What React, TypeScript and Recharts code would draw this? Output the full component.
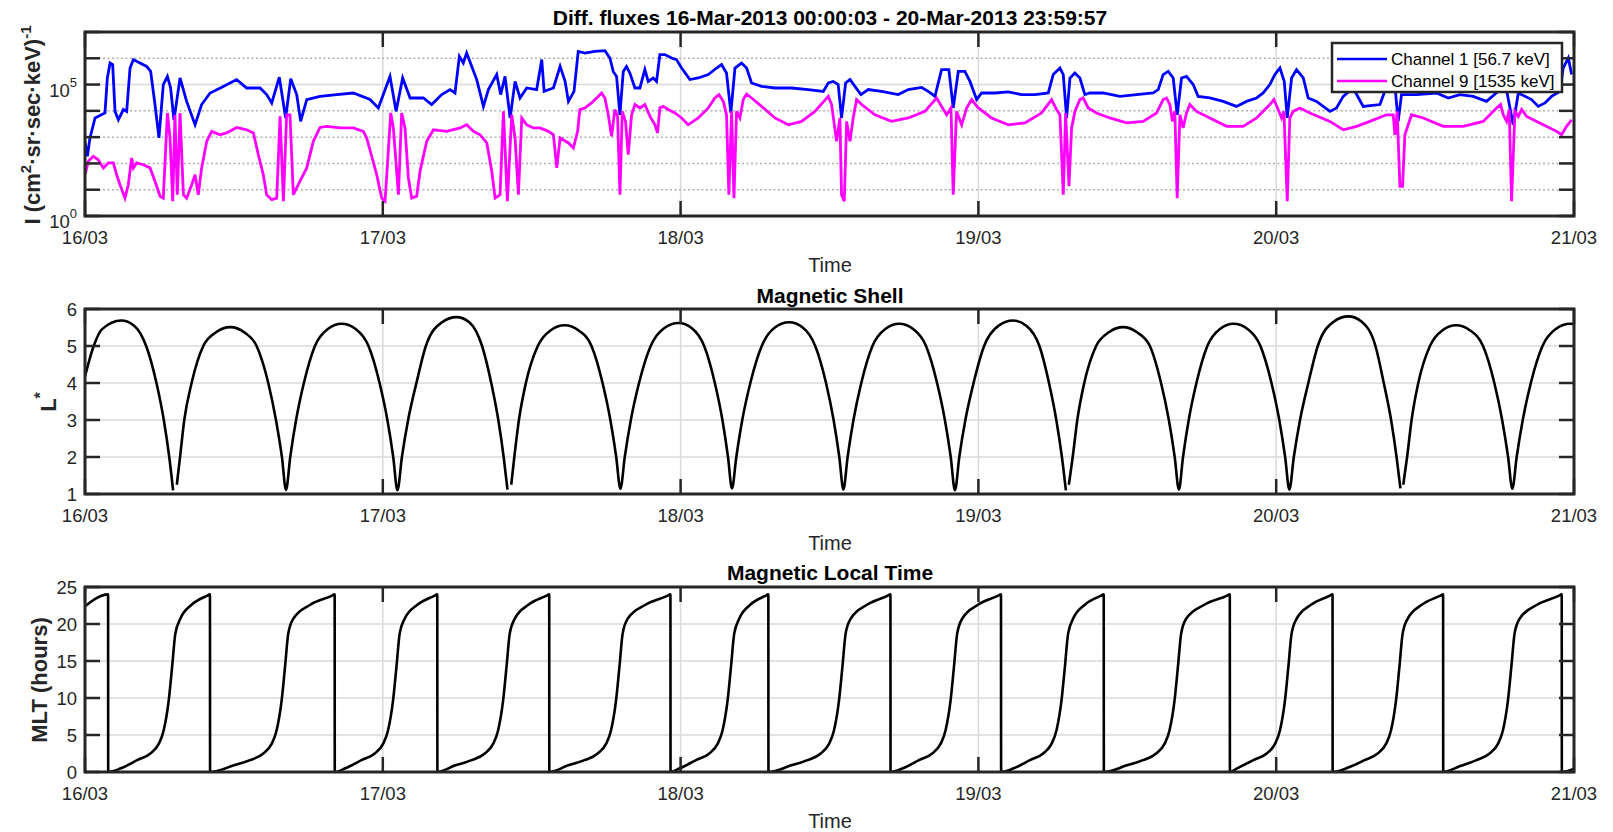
import React from 'react';
import { LineChart, Line, XAxis, YAxis, CartesianGrid } from 'recharts';

const FONT = '"Liberation Sans", Arial, Helvetica, sans-serif';
const INK = '#262626';
const GRID = '#dadada';
const MINOR = '#b0b0b0';
const PLOT_W = 1489;
const TICK_LEN = 15;

// ---- axis / label data ----
const dayTicks = [0, 24, 48, 72, 96, 120];
const dayLabels = ['16/03', '17/03', '18/03', '19/03', '20/03', '21/03'];
const fluxTicks = [1, 10, 100, 1000, 10000, 100000, 1000000, 10000000];
const fluxTickExponents = ['0', '', '', '', '', '5', '', ''];
const fluxMajorGrid = [100000];
const fluxMinorGrid = [10, 100, 1000, 10000, 1000000];
const lTicks = [1, 2, 3, 4, 5, 6];
const mltTicks = [0, 5, 10, 15, 20, 25];
const seriesNames = ['Channel 1 [56.7 keV]', 'Channel 9 [1535 keV]'];
const seriesColors = ['#0000ff', '#ff00ff'];
const panelTitles = ['Diff. fluxes 16-Mar-2013 00:00:03 - 20-Mar-2013 23:59:57', 'Magnetic Shell', 'Magnetic Local Time'];

// ---- Channel 1: [hours since 16/03 00:00, log10 flux] ----
const ch1 = [
  [0, 2.84], [0.19, 2.27], [0.4, 2.97], [0.81, 3.73], [1.61, 3.92], [1.8, 5.25], [2.02, 5.82], [2.23, 5.76], [2.42, 3.98], [2.69, 3.66],
  [3.09, 4.05], [3.36, 3.98], [3.63, 5.63], [3.9, 5.95], [4.43, 5.82], [4.97, 5.69], [5.29, 5.5], [5.64, 4.24], [5.96, 2.97], [6.31, 5.0],
  [6.64, 5.31], [6.9, 4.87], [7.17, 3.66], [7.66, 5.25], [8.19, 4.36], [8.87, 3.47], [9.4, 4.24], [10.08, 4.68], [11.15, 4.93], [12.22, 5.19],
  [13.03, 4.87], [14.11, 4.87], [14.64, 4.62], [15.05, 4.3], [15.66, 5.28], [16.17, 3.73], [16.58, 5.22], [17.06, 4.62], [17.38, 3.6], [17.87, 4.43],
  [18.94, 4.55], [20.28, 4.62], [21.63, 4.68], [22.97, 4.43], [23.64, 4.11], [24.58, 5.31], [25.07, 3.98], [25.6, 5.25], [26.2, 4.49], [27.27, 4.49],
  [27.94, 4.24], [28.75, 4.62], [29.42, 4.81], [29.82, 4.68], [30.17, 6.07], [30.49, 5.82], [30.76, 6.2], [31.17, 5.69], [31.57, 5.19], [32.11, 4.17],
  [32.51, 4.81], [33.18, 5.38], [33.5, 4.62], [33.85, 5.31], [34.26, 3.73], [34.66, 5.12], [35.06, 4.49], [35.6, 4.87], [36.4, 4.81], [36.81, 5.95],
  [37.0, 4.74], [37.75, 4.87], [38.29, 5.69], [38.69, 5.12], [38.96, 4.36], [39.41, 4.74], [39.75, 6.26], [40.29, 6.2], [41.09, 6.26], [41.9, 6.29],
  [42.3, 6.01], [42.57, 5.5], [42.84, 5.31], [43.11, 3.85], [43.38, 5.5], [43.64, 5.69], [43.91, 5.44], [44.32, 4.87], [44.72, 4.87], [45.12, 5.57],
  [45.39, 5.12], [45.79, 5.25], [46.06, 5.12], [46.33, 6.14], [46.73, 6.14], [47.27, 6.01], [47.67, 5.95], [48.08, 5.63], [48.75, 5.19], [49.42, 5.25],
  [50.23, 5.38], [50.9, 5.63], [51.3, 5.76], [51.7, 5.44], [51.89, 4.62], [52.05, 3.92], [52.38, 5.63], [52.91, 5.82], [53.32, 5.63], [53.72, 5.06],
  [54.53, 4.93], [55.6, 4.87], [56.94, 4.87], [58.29, 4.81], [59.5, 4.74], [59.9, 5.06], [60.3, 5.12], [60.7, 5.0], [60.97, 3.73], [61.3, 5.06],
  [61.65, 5.19], [62.05, 4.93], [62.53, 4.62], [63.12, 4.81], [64.2, 4.74], [65.54, 4.62], [66.35, 4.81], [67.42, 4.89], [67.96, 4.74], [68.5, 4.55],
  [69.03, 5.57], [69.62, 5.57], [69.97, 4.11], [70.38, 5.5], [70.91, 5.5], [71.32, 5.12], [71.86, 4.43], [72.26, 4.68], [73.33, 4.68], [74.41, 4.72],
  [75.48, 4.62], [76.56, 4.62], [77.63, 4.68], [78.03, 5.38], [78.57, 5.63], [78.84, 5.38], [79.11, 3.73], [79.38, 5.25], [79.77, 5.44], [80.18, 5.25],
  [80.58, 4.62], [80.98, 4.68], [82.06, 4.68], [83.4, 4.55], [84.74, 4.62], [86.09, 4.68], [86.49, 4.81], [86.89, 5.38], [87.3, 5.5], [87.7, 5.25],
  [88.02, 3.85], [88.37, 5.25], [88.77, 5.31], [89.31, 5.0], [89.71, 4.55], [90.65, 4.49], [91.73, 4.36], [92.8, 4.17], [93.61, 4.36], [94.42, 4.49],
  [94.95, 4.68], [95.49, 5.0], [95.89, 5.38], [96.3, 5.63], [96.65, 5.12], [96.89, 3.73], [97.24, 5.25], [97.64, 5.57], [98.18, 5.25], [98.58, 4.49],
  [99.25, 4.36], [100.33, 3.98], [100.86, 4.11], [101.4, 4.55], [102.2, 4.87], [103.01, 4.17], [104.36, 4.24], [104.89, 4.93], [105.56, 5.0], [105.83, 3.6],
  [106.1, 4.62], [107.31, 4.62], [108.92, 4.68], [109.86, 4.49], [110.8, 4.62], [111.88, 4.55], [112.95, 4.36], [113.89, 4.74], [114.43, 5.12], [115.1, 3.47],
  [115.51, 4.68], [116.58, 4.43], [117.12, 4.17], [117.66, 4.3], [118.19, 4.55], [118.87, 4.74], [119.13, 5.63], [119.54, 6.01], [119.81, 5.38],
];

// ---- Channel 9: [hours, log10 flux] ----
const ch9 = [
  [0, 1.57], [0.27, 2.08], [0.67, 2.27], [1.07, 2.14], [1.48, 1.83], [1.88, 2.02], [2.28, 2.02], [2.55, 1.57], [2.82, 1.19], [3.22, 0.68],
  [3.49, 1.19], [3.76, 2.21], [3.9, 1.83], [4.16, 2.02], [4.7, 1.95], [5.24, 1.83], [5.64, 1.32], [6.05, 0.75], [6.31, 0.68], [6.64, 3.92],
  [6.85, 2.97], [7.07, 0.56], [7.25, 3.85], [7.44, 0.81], [7.66, 3.92], [7.93, 0.81], [8.19, 0.68], [8.6, 1.19], [8.87, 1.57], [9.13, 0.81],
  [9.4, 1.83], [9.81, 2.84], [10.21, 3.22], [10.88, 3.09], [11.42, 3.16], [12.22, 3.37], [13.03, 3.28], [13.57, 3.16], [13.97, 2.33], [14.37, 1.57],
  [14.64, 0.81], [15.05, 0.62], [15.45, 0.68], [15.72, 3.79], [15.99, 0.56], [16.25, 3.85], [16.52, 3.85], [16.79, 0.81], [17.06, 1.07], [17.46, 1.45],
  [17.87, 1.83], [18.4, 2.84], [18.94, 3.37], [19.48, 3.41], [20.55, 3.35], [21.63, 3.35], [22.43, 3.22], [22.7, 2.97], [23.11, 2.27], [23.51, 1.57],
  [23.91, 0.68], [24.18, 0.56], [24.64, 3.92], [24.85, 3.35], [25.26, 0.81], [25.52, 3.92], [25.79, 3.35], [26.06, 1.45], [26.33, 0.68], [26.73, 0.75],
  [27.0, 1.7], [27.54, 2.84], [28.08, 3.28], [29.15, 3.22], [30.23, 3.35], [30.76, 3.47], [31.3, 3.22], [31.84, 3.09], [32.38, 2.78], [32.78, 1.7],
  [33.05, 0.68], [33.45, 0.81], [33.72, 3.98], [34.04, 0.56], [34.39, 3.85], [34.66, 2.97], [34.93, 0.81], [35.2, 3.73], [35.6, 3.47], [36.14, 3.35],
  [36.67, 3.35], [37.35, 3.22], [37.75, 3.09], [38.02, 1.83], [38.29, 2.97], [38.96, 2.78], [39.36, 2.59], [39.7, 3.22], [39.88, 4.05], [40.29, 4.11],
  [40.82, 4.3], [41.36, 4.55], [41.63, 4.68], [41.9, 4.49], [42.17, 3.85], [42.44, 3.03], [42.7, 4.05], [42.92, 3.79], [43.11, 0.81], [43.3, 3.98],
  [43.56, 3.6], [43.78, 2.33], [44.05, 3.85], [44.32, 4.24], [44.72, 4.11], [45.12, 4.24], [45.53, 3.79], [45.93, 3.47], [46.14, 3.16], [46.33, 4.11],
  [46.6, 4.17], [47.0, 4.05], [47.54, 3.92], [48.08, 3.73], [48.61, 3.47], [49.42, 3.73], [50.23, 4.11], [50.76, 4.49], [51.09, 4.62], [51.44, 4.36],
  [51.7, 3.85], [51.89, 0.81], [52.11, 3.98], [52.3, 0.68], [52.51, 3.98], [52.78, 3.73], [53.05, 4.43], [53.32, 4.64], [53.72, 4.49], [54.53, 4.17],
  [55.6, 3.73], [56.68, 3.47], [57.75, 3.6], [58.82, 3.98], [59.9, 4.55], [60.17, 4.24], [60.57, 2.84], [60.84, 3.73], [60.97, 0.81], [61.19, 0.56],
  [61.38, 3.6], [61.65, 2.84], [61.91, 3.73], [62.18, 4.43], [62.59, 4.24], [63.66, 3.85], [65.0, 3.6], [66.35, 3.73], [67.69, 3.98], [68.63, 4.49],
  [69.03, 4.17], [69.44, 3.85], [69.79, 4.11], [69.97, 0.81], [70.24, 3.98], [70.65, 3.47], [71.05, 4.11], [71.45, 4.43], [71.99, 4.11], [73.06, 3.73],
  [74.41, 3.47], [75.75, 3.54], [77.09, 3.92], [77.9, 4.43], [78.3, 4.05], [78.57, 3.85], [78.84, 0.81], [79.03, 3.92], [79.3, 1.13], [79.51, 3.35],
  [79.78, 3.98], [80.18, 4.43], [80.44, 4.49], [80.85, 4.11], [81.52, 3.92], [82.59, 3.73], [83.94, 3.54], [85.28, 3.6], [86.36, 3.92], [86.89, 4.43],
  [87.16, 4.49], [87.43, 4.24], [87.64, 3.6], [87.83, 3.98], [88.02, 0.68], [88.24, 3.85], [88.5, 3.35], [88.77, 3.92], [89.04, 4.24], [89.58, 3.98],
  [90.65, 3.73], [92.0, 3.41], [93.34, 3.41], [94.42, 3.73], [95.49, 4.24], [95.81, 4.43], [96.16, 4.05], [96.43, 3.73], [96.62, 3.98], [96.89, 0.56],
  [97.1, 3.73], [97.37, 3.98], [97.91, 4.11], [98.71, 3.92], [100.33, 3.6], [101.4, 3.28], [102.48, 3.41], [103.55, 3.6], [104.89, 3.85], [105.43, 3.85],
  [105.57, 3.09], [105.75, 3.98], [105.97, 1.13], [106.18, 1.13], [106.37, 3.09], [106.64, 3.47], [106.91, 3.85], [107.85, 3.73], [109.46, 3.41], [111.07, 3.41],
  [112.68, 3.6], [113.76, 4.11], [114.08, 4.24], [114.3, 3.85], [114.57, 3.6], [114.78, 4.05], [114.97, 0.56], [115.24, 3.98], [115.51, 3.79], [115.78, 4.05],
  [116.18, 3.79], [117.52, 3.47], [118.6, 3.22], [119.0, 3.09], [119.4, 3.41], [119.81, 3.66],
];

// ---- L* : [hours, L*] (null = data gap) ----
const lStar: [number, number | null][] = [
  [0, 4.18], [0.7, 5.0], [1.36, 5.45], [2.92, 5.69], [3.96, 5.55], [4.93, 5.0], [5.76, 4.0], [6.35, 3.0], [6.79, 2.0], [7.1, 1.1],
  [7.25, null], [7.4, 1.25], [7.66, 2.0], [8.0, 3.0], [8.59, 4.0], [9.53, 5.0], [10.56, 5.37], [11.71, 5.51], [12.83, 5.37], [13.83, 5.0],
  [14.77, 4.0], [15.39, 3.0], [15.87, 2.0], [16.2, 1.11], [16.54, 2.0], [17.01, 3.0], [17.64, 4.0], [18.53, 5.0], [19.57, 5.46], [20.69, 5.6],
  [21.81, 5.46], [22.85, 5.0], [23.74, 4.0], [24.37, 3.0], [24.84, 2.0], [25.18, 1.1], [25.54, 2.0], [26.04, 3.0], [26.71, 4.0], [27.47, 5.0],
  [28.76, 5.64], [29.95, 5.78], [30.97, 5.64], [32.0, 5.0], [32.74, 4.0], [33.31, 3.0], [33.74, 2.0], [34.05, 1.12], [34.2, null], [34.35, 1.25],
  [34.6, 2.0], [34.97, 3.0], [35.53, 4.0], [36.49, 5.0], [37.51, 5.42], [38.66, 5.56], [39.78, 5.42], [40.82, 5.0], [41.71, 4.0], [42.34, 3.0],
  [42.81, 2.0], [43.15, 1.14], [43.5, 2.0], [43.99, 3.0], [44.65, 4.0], [45.59, 5.0], [46.67, 5.48], [47.84, 5.62], [48.91, 5.48], [49.9, 5.0],
  [50.76, 4.0], [51.37, 3.0], [51.82, 2.0], [52.14, 1.15], [52.49, 2.0], [52.97, 3.0], [53.62, 4.0], [54.54, 5.0], [55.6, 5.5], [56.75, 5.64],
  [57.84, 5.5], [58.85, 5.0], [59.72, 4.0], [60.33, 3.0], [60.79, 2.0], [61.12, 1.12], [61.46, 2.0], [61.93, 3.0], [62.56, 4.0], [63.46, 5.0],
  [64.5, 5.46], [65.62, 5.6], [66.74, 5.46], [67.78, 5.0], [68.67, 4.0], [69.3, 3.0], [69.77, 2.0], [70.11, 1.1], [70.46, 2.0], [70.95, 3.0],
  [71.61, 4.0], [72.46, 5.0], [73.63, 5.55], [74.8, 5.69], [75.86, 5.55], [76.92, 5.0], [77.69, 4.0], [78.28, 3.0], [78.73, 2.0], [79.05, 1.1],
  [79.17, null], [79.29, 1.25], [79.6, 2.0], [79.97, 3.0], [80.53, 4.0], [81.49, 5.0], [82.51, 5.37], [83.66, 5.51], [84.78, 5.37], [85.82, 5.0],
  [86.72, 4.0], [87.35, 3.0], [87.82, 2.0], [88.16, 1.12], [88.49, 2.0], [88.95, 3.0], [89.57, 4.0], [90.45, 5.0], [91.47, 5.46], [92.57, 5.6],
  [93.69, 5.46], [94.73, 5.0], [95.62, 4.0], [96.25, 3.0], [96.72, 2.0], [97.06, 1.12], [97.42, 2.0], [97.92, 3.0], [98.59, 4.0], [99.35, 5.0],
  [100.64, 5.66], [101.83, 5.8], [102.87, 5.66], [104.0, 5.0], [104.67, 4.0], [105.26, 3.0], [105.7, 2.0], [106.01, 1.15], [106.12, null], [106.24, 1.25],
  [106.55, 2.0], [106.91, 3.0], [107.45, 4.0], [108.39, 5.0], [109.38, 5.42], [110.5, 5.56], [111.63, 5.42], [112.67, 5.0], [113.58, 4.0], [114.21, 3.0],
  [114.69, 2.0], [115.03, 1.14], [115.38, 2.0], [115.87, 3.0], [116.52, 4.0], [117.46, 5.0], [118.53, 5.46], [119.7, 5.6], [120, 5.59],
];

// ---- MLT : [hours, MLT hours] ----
const mlt = [
  [0, 22.4], [1.86, 24.0], [1.87, 0],
  [2.9, 0.5], [4.2, 1.6], [5.27, 2.5], [5.94, 3.8], [6.34, 5.6], [6.75, 9.7], [7.02, 14.2], [7.28, 18.7], [7.68, 20.7], [8.59, 22.6], [9.82, 23.8], [10.07, 24.0], [10.08, 0],
  [12.0, 0.9], [13.3, 1.6], [14.37, 2.5], [15.04, 3.8], [15.44, 5.6], [15.85, 9.7], [16.12, 14.2], [16.38, 18.7], [16.78, 20.7], [18.16, 22.6], [19.87, 23.8], [20.12, 24.0], [20.13, 0],
  [20.98, 0.5], [22.28, 1.6], [23.35, 2.5], [24.02, 3.8], [24.42, 5.6], [24.83, 9.7], [25.1, 14.2], [25.36, 18.7], [25.76, 20.7], [26.79, 22.6], [28.14, 23.8], [28.39, 24.0], [28.4, 0],
  [29.85, 0.9], [31.15, 1.6], [32.22, 2.5], [32.89, 3.8], [33.29, 5.6], [33.7, 9.7], [33.97, 14.2], [34.23, 18.7], [34.63, 20.7], [35.73, 22.6], [37.16, 23.8], [37.41, 24.0], [37.42, 0],
  [38.95, 0.9], [40.25, 1.6], [41.32, 2.5], [41.99, 3.8], [42.39, 5.6], [42.8, 9.7], [43.07, 14.2], [43.33, 18.7], [43.73, 20.7], [45.17, 22.6], [46.93, 23.8], [47.18, 24.0], [47.19, 0],
  [47.94, 0.5], [49.24, 1.6], [50.31, 2.5], [50.98, 3.8], [51.38, 5.6], [51.79, 9.7], [52.06, 14.2], [52.32, 18.7], [52.72, 20.7], [53.61, 22.6], [54.82, 23.8], [55.07, 24.0], [55.08, 0],
  [56.92, 0.9], [58.22, 1.6], [59.29, 2.5], [59.96, 3.8], [60.36, 5.6], [60.77, 9.7], [61.04, 14.2], [61.3, 18.7], [61.7, 20.7], [63.02, 22.6], [64.66, 23.8], [64.91, 24.0], [64.92, 0],
  [65.91, 0.5], [67.21, 1.6], [68.28, 2.5], [68.95, 3.8], [69.35, 5.6], [69.76, 9.7], [70.03, 14.2], [70.29, 18.7], [70.69, 20.7], [71.97, 22.6], [73.57, 23.8], [73.82, 24.0], [73.83, 0],
  [74.85, 0.5], [76.15, 1.6], [77.22, 2.5], [77.89, 3.8], [78.29, 5.6], [78.7, 9.7], [78.97, 14.2], [79.23, 18.7], [79.63, 20.7], [80.58, 22.6], [81.85, 23.8], [82.1, 24.0], [82.11, 0],
  [83.96, 0.9], [85.26, 1.6], [86.33, 2.5], [87.0, 3.8], [87.4, 5.6], [87.81, 9.7], [88.08, 14.2], [88.34, 18.7], [88.74, 20.7], [90.21, 22.6], [92.01, 23.8], [92.26, 24.0], [92.27, 0],
  [92.86, 0.5], [94.16, 1.6], [95.23, 2.5], [95.9, 3.8], [96.3, 5.6], [96.71, 9.7], [96.98, 14.2], [97.24, 18.7], [97.64, 20.7], [98.8, 22.6], [100.29, 23.8], [100.54, 24.0], [100.55, 0],
  [101.81, 0.6], [103.11, 1.6], [104.18, 2.5], [104.85, 3.8], [105.25, 5.6], [105.66, 9.7], [105.93, 14.2], [106.19, 18.7], [106.59, 20.7], [107.73, 22.6], [109.2, 23.8], [109.45, 24.0], [109.46, 0],
  [110.83, 0.8], [112.13, 1.6], [113.2, 2.5], [113.87, 3.8], [114.27, 5.6], [114.68, 9.7], [114.95, 14.2], [115.21, 18.7], [115.61, 20.7], [117.02, 22.6], [118.76, 23.8], [119.01, 24.0], [119.02, 0],
  [120, 0.45],
];

// ---- tables for the library ----
const ch1Data = ch1.map(([t, lg]) => ({ t, v: Math.pow(10, lg) }));
const ch9Data = ch9.map(([t, lg]) => ({ t, v: Math.pow(10, lg) }));
const lData = lStar.map(([t, v]) => ({ t, v }));
const mltData = mlt.map(([t, v]) => ({ t, v }));

// ---- tick renderers ----
function XTick(props: any) {
  const { x, y, payload, plotH } = props;
  const idx = dayTicks.indexOf(payload.value);
  return (
    <g>
      <line x1={x} x2={x} y1={y} y2={y - TICK_LEN} stroke={INK} strokeWidth={2.5} />
      <line x1={x} x2={x} y1={y - plotH} y2={y - plotH + TICK_LEN} stroke={INK} strokeWidth={2.5} />
      <text x={x} y={y + 28} textAnchor="middle" fontFamily={FONT} fontSize={18.5} fill={INK}>
        {dayLabels[idx]}
      </text>
    </g>
  );
}

function YTick(props: any) {
  const { x, y, payload } = props;
  return (
    <g>
      <line x1={x} x2={x + TICK_LEN} y1={y} y2={y} stroke={INK} strokeWidth={2.5} />
      <line x1={x + PLOT_W - TICK_LEN} x2={x + PLOT_W} y1={y} y2={y} stroke={INK} strokeWidth={2.5} />
      <text x={x - 8} y={y} dy="0.36em" textAnchor="end" fontFamily={FONT} fontSize={18.5} fill={INK}>
        {String(payload.value)}
      </text>
    </g>
  );
}

function FluxTick(props: any) {
  const { x, y, payload } = props;
  const idx = fluxTicks.indexOf(payload.value);
  const exp = idx >= 0 ? fluxTickExponents[idx] : '';
  return (
    <g>
      <line x1={x} x2={x + TICK_LEN} y1={y} y2={y} stroke={INK} strokeWidth={2.5} />
      <line x1={x + PLOT_W - TICK_LEN} x2={x + PLOT_W} y1={y} y2={y} stroke={INK} strokeWidth={2.5} />
      {exp !== '' && (
        <text x={x - 8} y={y + 12} textAnchor="end" fontFamily={FONT} fontSize={18.5} fill={INK}>
          10<tspan dy={-10} fontSize={13}>{exp}</tspan>
        </text>
      )}
    </g>
  );
}

const W = 1613;
const H = 260;

export default function App() {
  return (
    <div style={{ position: 'absolute', left: 0, top: 0, width: 1613, height: 832, background: '#fff', fontFamily: FONT }}>
      {/* Panel 1: differential fluxes */}
      <div style={{ position: 'absolute', left: 0, top: 0 }}>
        <LineChart width={W} height={H} margin={{ top: 32, right: 39, bottom: 14, left: 25 }}>
          <CartesianGrid horizontal={false} stroke={GRID} strokeWidth={1.5} />
          <CartesianGrid vertical={false} horizontalValues={fluxMajorGrid} stroke={GRID} strokeWidth={1.5} />
          <CartesianGrid vertical={false} horizontalValues={fluxMinorGrid} stroke={MINOR} strokeWidth={1.5} strokeDasharray="2 2.5" />
          <XAxis dataKey="t" type="number" domain={[0, 120]} ticks={dayTicks} interval={0} height={30}
            axisLine={false} tickLine={false} tickSize={0} tickMargin={0} tick={<XTick plotH={184} />} allowDataOverflow />
          <YAxis type="number" scale="log" domain={[1, 10000000]} ticks={fluxTicks} interval={0} width={60}
            axisLine={false} tickLine={false} tickSize={0} tickMargin={0} tick={<FluxTick />} allowDataOverflow />
          <Line data={ch1Data} dataKey="v" name={seriesNames[0]} type="linear" stroke={seriesColors[0]} strokeWidth={2.8}
            dot={false} activeDot={false} isAnimationActive={false} />
          <Line data={ch9Data} dataKey="v" name={seriesNames[1]} type="linear" stroke={seriesColors[1]} strokeWidth={2.8}
            dot={false} activeDot={false} isAnimationActive={false} />
        </LineChart>
      </div>

      {/* Panel 2: L* */}
      <div style={{ position: 'absolute', left: 0, top: 280 }}>
        <LineChart width={W} height={H} margin={{ top: 29, right: 39, bottom: 16, left: 25 }}>
          <CartesianGrid stroke={GRID} strokeWidth={1.5} />
          <XAxis dataKey="t" type="number" domain={[0, 120]} ticks={dayTicks} interval={0} height={30}
            axisLine={false} tickLine={false} tickSize={0} tickMargin={0} tick={<XTick plotH={185} />} allowDataOverflow />
          <YAxis type="number" domain={[1, 6]} ticks={lTicks} interval={0} width={60}
            axisLine={false} tickLine={false} tickSize={0} tickMargin={0} tick={<YTick />} allowDataOverflow />
          <Line data={lData} dataKey="v" type="monotone" stroke="#000" strokeWidth={2.6}
            dot={false} activeDot={false} isAnimationActive={false} connectNulls={false} />
        </LineChart>
      </div>

      {/* Panel 3: MLT */}
      <div style={{ position: 'absolute', left: 0, top: 560 }}>
        <LineChart width={W} height={H} margin={{ top: 27, right: 39, bottom: 18, left: 25 }}>
          <CartesianGrid stroke={GRID} strokeWidth={1.5} />
          <XAxis dataKey="t" type="number" domain={[0, 120]} ticks={dayTicks} interval={0} height={30}
            axisLine={false} tickLine={false} tickSize={0} tickMargin={0} tick={<XTick plotH={185} />} allowDataOverflow />
          <YAxis type="number" domain={[0, 25]} ticks={mltTicks} interval={0} width={60}
            axisLine={false} tickLine={false} tickSize={0} tickMargin={0} tick={<YTick />} allowDataOverflow />
          <Line data={mltData} dataKey="v" type="monotone" stroke="#000" strokeWidth={2.6}
            dot={false} activeDot={false} isAnimationActive={false} />
        </LineChart>
      </div>

      {/* frames, titles, axis labels, legend */}
      <svg width={1613} height={832} style={{ position: 'absolute', left: 0, top: 0, pointerEvents: 'none' }}>
        <g fill="none" stroke={INK} strokeWidth={3}>
          <rect x={85} y={32} width={PLOT_W} height={184} />
          <rect x={85} y={309} width={PLOT_W} height={185} />
          <rect x={85} y={587} width={PLOT_W} height={185} />
        </g>
        <g fontFamily={FONT} fontWeight="bold" fontSize={21} fill="#000" textAnchor="middle">
          <text x={830} y={25}>{panelTitles[0]}</text>
          <text x={830} y={303}>{panelTitles[1]}</text>
          <text x={830} y={580}>{panelTitles[2]}</text>
        </g>
        <g fontFamily={FONT} fontSize={20} fill={INK} textAnchor="middle">
          <text x={830} y={272}>Time</text>
          <text x={830} y={550}>Time</text>
          <text x={830} y={828}>Time</text>
        </g>
        <g fontFamily={FONT} fontWeight="bold" fontSize={22} fill={INK} textAnchor="middle">
          <text x={40} y={125} transform="rotate(-90 40 125)">
            I (cm<tspan dy={-9} fontSize={15}>2</tspan><tspan dy={9}>·sr·sec·keV)</tspan><tspan dy={-9} fontSize={15}>-1</tspan>
          </text>
          <text x={56} y={402} transform="rotate(-90 56 402)">
            L<tspan dy={-10} fontSize={16}>*</tspan>
          </text>
          <text x={47} y={680} transform="rotate(-90 47 680)">MLT (hours)</text>
        </g>
        <g>
          <rect x={1332} y={43} width={230} height={49} fill="#fff" stroke={INK} strokeWidth={2.5} />
          {seriesNames.map((name, i) => (
            <g key={name}>
              <line x1={1337} x2={1387} y1={59 + i * 22} y2={59 + i * 22} stroke={seriesColors[i]} strokeWidth={2.5} />
              <text x={1391} y={65 + i * 22} fontFamily={FONT} fontSize={17} fill="#000">{name}</text>
            </g>
          ))}
        </g>
      </svg>
    </div>
  );
}
